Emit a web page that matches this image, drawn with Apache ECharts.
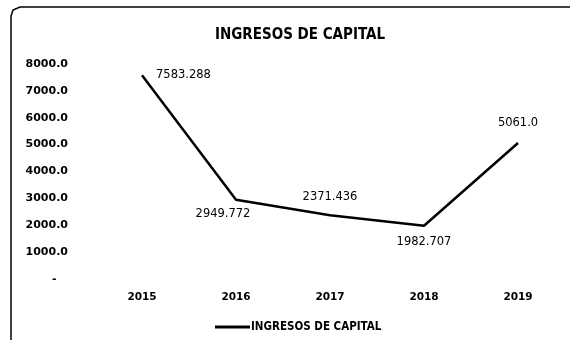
<!DOCTYPE html>
<html>
<head>
<meta charset="utf-8">
<style>
  html, body { margin: 0; padding: 0; background: #fff; }
  #chart { width: 570px; height: 345px; }
</style>
<script src="https://cdn.jsdelivr.net/npm/echarts@6/dist/echarts.min.js"></script>
</head>
<body>
<div id="chart"></div>
<script>
// Años y valores de ingresos de capital
const years = ['2015', '2016', '2017', '2018', '2019'];
const ingresosCapital = [7583.288, 2949.772, 2371.436, 1982.707, 5061.0];
const labelTexts = ['7583.288', '2949.772', '2371.436', '1982.707', '5061.0'];
const labelPlacement = ['right', 'bottom', 'top', 'bottom', 'top'];
const labelShift = [[6, 0], [-13, 0], [0, -4], [0, 2], [0, -6]];
const seriesName = 'INGRESOS DE CAPITAL';

const chart = echarts.init(document.getElementById('chart'));

const points = ingresosCapital.map((v, i) => ({
  value: v,
  label: { position: labelPlacement[i], offset: labelShift[i], formatter: labelTexts[i] }
}));

chart.setOption({
  animation: false,
  backgroundColor: '#ffffff',
  title: {
    text: 'INGRESOS DE CAPITAL',
    left: 295,
    textAlign: 'center',
    top: 23,
    textStyle: { fontFamily: 'DejaVu Sans Condensed, DejaVu Sans', fontWeight: 'bold', fontSize: 15, color: '#000' }
  },
  legend: {
    data: [seriesName],
    bottom: 7,
    left: 210,
    icon: 'rect',
    itemWidth: 35,
    itemHeight: 3,
    itemGap: 2,
    textStyle: { fontFamily: 'DejaVu Sans Condensed, DejaVu Sans', fontWeight: 'bold', fontSize: 11.5, color: '#000', padding: [0, 0, 0, -4] }
  },
  grid: { left: 95, right: 5, top: 64, bottom: 66 },
  xAxis: {
    type: 'category',
    data: years,
    boundaryGap: true,
    axisLine: { show: false },
    axisTick: { show: false },
    axisLabel: { margin: 13, fontFamily: 'DejaVu Sans', fontWeight: 'bold', fontSize: 10.5, color: '#000' }
  },
  yAxis: {
    type: 'value',
    min: 0,
    max: 8000,
    interval: 1000,
    axisLine: { show: false },
    axisTick: { show: false },
    splitLine: { show: false },
    axisLabel: {
      margin: 27,
      fontFamily: 'DejaVu Sans',
      fontWeight: 'bold',
      fontSize: 11,
      color: '#000',
      formatter: v => v === 0 ? '-   ' : v.toFixed(1)
    }
  },
  series: [{
    name: seriesName,
    type: 'line',
    data: points,
    symbol: 'circle',
    symbolSize: 0.1,
    showSymbol: true,
    lineStyle: { color: '#000', width: 2.5 },
    itemStyle: { color: '#000' },
    label: {
      show: true,
      distance: 8,
      fontFamily: 'DejaVu Sans',
      fontSize: 11.5,
      color: '#000'
    }
  }],
  graphic: [
    {
      type: 'polyline',
      shape: { points: [[11, 340], [11, 16], [13, 10], [20, 7], [570, 7]] },
      style: { stroke: '#000', lineWidth: 1.5, fill: null }
    }
  ]
});
</script>
</body>
</html>
